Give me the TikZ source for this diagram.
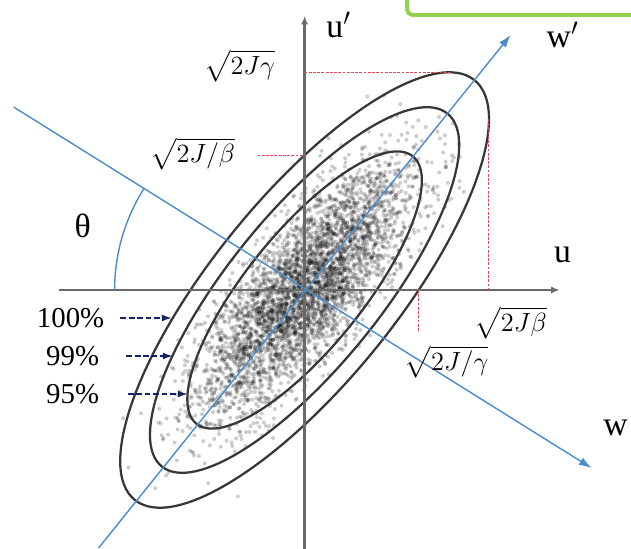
\documentclass[tikz,border=0pt]{standalone}
\usepackage{amsmath,amssymb}
\usepackage{graphicx}
\usepackage{fontspec}
\setmainfont{Liberation Serif}
\usetikzlibrary{arrows.meta,calc}
\definecolor{axisgray}{RGB}{105,105,105}
\definecolor{ellgray}{RGB}{55,55,55}
\definecolor{wblue}{RGB}{75,140,205}
\definecolor{markred}{RGB}{215,75,85}
\definecolor{arrownavy}{RGB}{20,35,100}
\definecolor{boxgreen}{RGB}{146,208,80}
\newcommand{\rootlbl}[1]{\scalebox{1.3}{$\sqrt{\mathstrut #1}$}}

\begin{document}
\begin{tikzpicture}[x=0.025cm,y=0.025cm,>=Latex,
  axisline/.style={draw=axisgray,line width=1.6pt,-{Latex[length=6pt,width=5pt]}},
  ellline/.style={draw=ellgray,line width=1.6pt},
  blueline/.style={draw=wblue,line width=1pt},
  markline/.style={draw=markred,line width=0.7pt,dash pattern=on 2pt off 1pt},
  pctarrow/.style={draw=arrownavy,line width=1pt,dash pattern=on 4pt off 2pt,-{Latex[length=7pt,width=5pt]}},
  bigtext/.style={font=\fontsize{24}{28}\selectfont},
  roottext/.style={font=\Large},
  pcttext/.style={font=\fontsize{20.5}{24}\selectfont}]

\clip (-304.6,-258) rectangle (326.4,290);
\fill[white] (-304.6,-258) rectangle (326.4,290);
\coordinate (O) at (0,0);

\pgfmathsetseed{2024}
\foreach \i in {1,...,4200}{
  \pgfmathsetmacro{\p}{66*(rand+rand+rand+rand)}
  \pgfmathsetmacro{\q}{23*(rand+rand+rand+rand)}
  \fill[black,fill opacity=0.2] (O) ++(51:\p) ++(141:\q) circle[radius=2];
}

\draw[ellline,rotate=51] (O) ellipse[x radius=270,y radius=92];
\draw[ellline,rotate=51] (O) ellipse[x radius=227,y radius=76];
\draw[ellline,rotate=51] (O) ellipse[x radius=172,y radius=58];

\coordinate (uL) at (-246,0);
\coordinate (uR) at (255,0);
\coordinate (vB) at (0,-260);
\coordinate (vT) at (0,274);
\draw[axisline] (uL) -- (uR);
\draw[axisline] (vB) -- (vT);

\coordinate (gt0) at (0,217.7);
\coordinate (gt1) at (145,217.7);
\coordinate (bt0) at (184.3,171);
\coordinate (bt1) at (184.3,0);
\coordinate (bl0) at (-47,134.8);
\coordinate (bl1) at (0,134.8);
\coordinate (gl0) at (114.1,0);
\coordinate (gl1) at (114.1,-42);
\draw[markline] (gt0) -- (gt1);
\draw[markline] (bt0) -- (bt1);
\draw[markline] (bl0) -- (bl1);
\draw[markline] (gl0) -- (gl1);

\coordinate (wpB) at (-206,-258);
\coordinate (wpT) at (206,255);
\coordinate (wL) at (-291,183);
\coordinate (wR) at (287,-178);
\draw[blueline,-{Latex[length=9pt,width=6pt]}] (wpB) -- (wpT);
\draw[blueline,-{Latex[length=9pt,width=6pt]}] (wL) -- (wR);
\draw[blueline] (O) ++(180:190) arc[start angle=180,end angle=147.7,radius=190];

\node[bigtext] (ul) at (258,35) {u};
\node[bigtext] (upl) at (34,265) {u$'$};
\node[bigtext] (wl) at (311,-138) {w};
\node[bigtext] (wpl) at (258,255) {w$'$};
\node[bigtext] (th) at (-222,64) {θ};

\node[roottext] (rg) at (-65,224) {\rootlbl{2J\gamma}};
\node[roottext] (rjb) at (-112,136) {\rootlbl{2J/\beta}};
\node[roottext] (rb) at (206,-33) {\rootlbl{2J\beta}};
\node[roottext] (rjg) at (142,-72) {\rootlbl{2J/\gamma}};

\node[pcttext] (p100) at (-234,-28) {100\%};
\node[pcttext] (p99) at (-232,-66) {99\%};
\node[pcttext] (p95) at (-232,-104) {95\%};
\coordinate (t100) at (-133,-28);
\coordinate (t99) at (-132,-66);
\coordinate (t95) at (-117,-104);
\draw[pctarrow,shorten <=8pt] (p100) -- (t100);
\draw[pctarrow,shorten <=16pt] (p99) -- (t99);
\draw[pctarrow,shorten <=17pt] (p95) -- (t95);

\draw[boxgreen,line width=2.8pt,rounded corners=4pt] (102.5,275) rectangle (360,330);

\end{tikzpicture}
\end{document}
